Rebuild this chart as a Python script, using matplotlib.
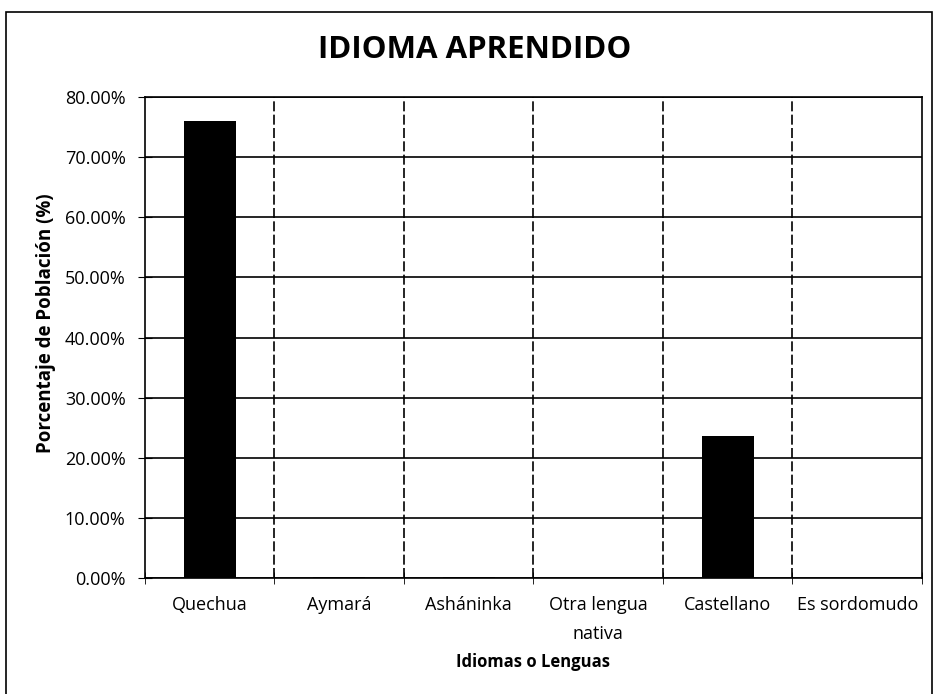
import matplotlib.pyplot as plt
from matplotlib.patches import Rectangle
from matplotlib.ticker import FuncFormatter

categorias = ["Quechua", "Aymará", "Asháninka", "Otra lengua\nnativa", "Castellano", "Es sordomudo"]
porcentajes = [76.0, 0.2, 0.2, 0.0, 23.6, 0.0]

plt.rcParams['font.family'] = ['Open Sans', 'DejaVu Sans']

fig = plt.figure(figsize=(9.34, 6.94), dpi=100)
ax = fig.add_axes([0.1552, 0.1671, 0.8319, 0.6931])

x = range(len(categorias))
ax.bar(x, porcentajes, width=0.4, color="black", zorder=3)

ax.set_xlim(-0.5, len(categorias) - 0.5)
ax.set_ylim(0, 80)
ax.set_yticks(range(0, 81, 10))
ax.yaxis.set_major_formatter(FuncFormatter(lambda v, p: "%.2f%%" % v))
ax.set_xticks(list(x))
ax.set_xticklabels(categorias, fontsize=13, linespacing=1.75, va="top")
ax.set_xticks([i - 0.5 for i in range(len(categorias) + 1)], minor=True)
ax.tick_params(axis="y", labelsize=13, length=10, direction="inout", pad=9)
ax.tick_params(axis="x", which="major", length=0, pad=13)
ax.tick_params(axis="x", which="minor", length=8, direction="inout")

# rejilla: horizontales continuas, verticales entre categorias a trazos
ax.yaxis.grid(True, color="black", linewidth=1.2, zorder=0)
for b in [i + 0.5 for i in range(len(categorias) - 1)]:
    ax.axvline(b, color="black", linewidth=1.2, linestyle=(0, (6, 2)), zorder=0)
for s in ax.spines.values():
    s.set_linewidth(1.2)

ax.set_xlabel("Idiomas o Lenguas", fontsize=12, fontweight="bold")
ax.xaxis.set_label_coords(0.5, -0.155)
ax.set_ylabel("Porcentaje de Población (%)", fontsize=13.5, fontweight="bold")
ax.yaxis.set_label_coords(-0.115, 0.53)
fig.text(0.508, 0.928, "IDIOMA APRENDIDO", ha="center", va="center", fontsize=22.5, fontweight="bold")

# marco exterior del grafico
fig.patches.append(Rectangle((0.006, -0.01), 0.992, 0.993, transform=fig.transFigure,
                             fill=False, edgecolor="black", linewidth=1.2))

fig.savefig("out.png", dpi=100)
